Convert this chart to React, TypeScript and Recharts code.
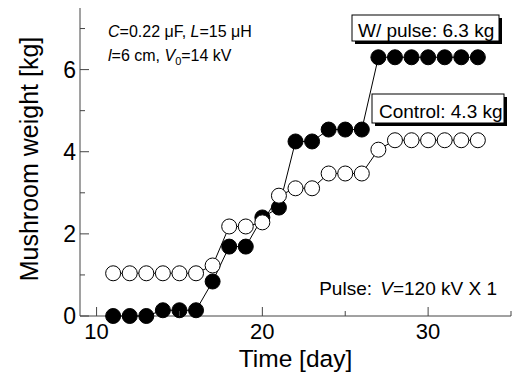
import React from 'react';
import { LineChart, Line, XAxis, YAxis } from 'recharts';

const days = [11, 12, 13, 14, 15, 16, 17, 18, 19, 20, 21, 22, 23, 24, 25, 26, 27, 28, 29, 30, 31, 32, 33];
const pulseWeight = [0, 0, 0, 0.14, 0.14, 0.14, 0.84, 1.69, 1.69, 2.4, 2.64, 4.25, 4.25, 4.54, 4.54, 4.54, 6.3, 6.3, 6.3, 6.3, 6.3, 6.3, 6.3];
const controlWeight = [1.04, 1.04, 1.04, 1.04, 1.04, 1.04, 1.23, 2.18, 2.18, 2.28, 2.93, 3.11, 3.11, 3.47, 3.47, 3.47, 4.05, 4.28, 4.28, 4.28, 4.28, 4.28, 4.28];
const xTicks = [10, 15, 20, 25, 30, 35];
const xLabels = [10, 20, 30];
const yTicks = [0, 1, 2, 3, 4, 5, 6, 7];
const yLabels = [0, 2, 4, 6];

const data = days.map((d, i) => ({ day: d, pulse: pulseWeight[i], control: controlWeight[i] }));

const FONT = "'Liberation Sans', Arial, Helvetica, sans-serif";
const AXIS = '#444';
const MAJOR = 9;
const MINOR = 5;

const BottomTick = (props: any) => {
  const { x, y, payload } = props;
  const major = xLabels.includes(payload.value);
  return (
    <g>
      <line x1={x} x2={x} y1={y} y2={y - (major ? MAJOR : MINOR)} stroke={AXIS} strokeWidth={1} />
      {major && (
        <text x={x} y={y + 22.5} textAnchor="middle" fontSize={22} fontFamily={FONT} fill="#000">
          {payload.value}
        </text>
      )}
    </g>
  );
};

const TopTick = (props: any) => {
  const { x, y, payload } = props;
  const major = xLabels.includes(payload.value);
  return <line x1={x} x2={x} y1={y} y2={y + (major ? MAJOR : MINOR)} stroke={AXIS} strokeWidth={1} />;
};

const LeftTick = (props: any) => {
  const { x, y, payload } = props;
  const major = yLabels.includes(payload.value);
  return (
    <g>
      <line x1={x} x2={x + (major ? MAJOR : MINOR)} y1={y} y2={y} stroke={AXIS} strokeWidth={1} />
      {major && (
        <text x={x - 4} y={y + 8} textAnchor="end" fontSize={23} fontFamily={FONT} fill="#000">
          {payload.value}
        </text>
      )}
    </g>
  );
};

const RightTick = (props: any) => {
  const { x, y, payload } = props;
  const major = yLabels.includes(payload.value);
  return <line x1={x} x2={x - (major ? MAJOR : MINOR)} y1={y} y2={y} stroke={AXIS} strokeWidth={1} />;
};

const filledDot = { r: 7.5, fill: '#000', stroke: '#000', strokeWidth: 1 };
const openDot = { r: 7.5, fill: '#fff', stroke: '#000', strokeWidth: 1 };

export default function App() {
  return (
    <div style={{ position: 'absolute', left: 0, top: 0, width: 513, height: 376, background: '#fff' }}>
      <LineChart width={513} height={376} data={data} margin={{ top: 8, right: 2, bottom: 0, left: 0 }}>
        <XAxis
          dataKey="day"
          type="number"
          domain={[9, 35]}
          ticks={xTicks}
          interval={0}
          height={60}
          tickSize={0}
          tickMargin={0}
          tickLine={false}
          axisLine={{ stroke: AXIS, strokeWidth: 1 }}
          tick={BottomTick}
        />
        <XAxis
          xAxisId="top"
          orientation="top"
          dataKey="day"
          type="number"
          domain={[9, 35]}
          ticks={xTicks}
          interval={0}
          height={0}
          tickSize={0}
          tickMargin={0}
          tickLine={false}
          axisLine={{ stroke: AXIS, strokeWidth: 1 }}
          tick={TopTick}
        />
        <YAxis
          type="number"
          domain={[0, 7.5]}
          ticks={yTicks}
          interval={0}
          width={80}
          tickSize={0}
          tickMargin={0}
          tickLine={false}
          axisLine={{ stroke: AXIS, strokeWidth: 1 }}
          tick={LeftTick}
        />
        <YAxis
          yAxisId="right"
          orientation="right"
          type="number"
          domain={[0, 7.5]}
          ticks={yTicks}
          interval={0}
          width={0}
          tickSize={0}
          tickMargin={0}
          tickLine={false}
          axisLine={{ stroke: AXIS, strokeWidth: 1 }}
          tick={RightTick}
        />
        <Line
          dataKey="pulse"
          stroke="#000"
          strokeWidth={1}
          dot={filledDot}
          activeDot={false}
          isAnimationActive={false}
        />
        <Line
          dataKey="control"
          stroke="#000"
          strokeWidth={1}
          dot={openDot}
          activeDot={false}
          isAnimationActive={false}
        />
      </LineChart>
      <svg
        width={513}
        height={376}
        style={{ position: 'absolute', left: 0, top: 0, pointerEvents: 'none' }}
        fontFamily={FONT}
      >
        <text x={295.5} y={366.5} textAnchor="middle" fontSize={24.5} fill="#000">Time [day]</text>
        <text transform="translate(37.5,159) rotate(-90)" textAnchor="middle" fontSize={25} fill="#000">
          Mushroom weight [kg]
        </text>
        <text x={108} y={37} fontSize={16} fill="#000">
          <tspan fontStyle="italic">C</tspan>=0.22 μF, <tspan fontStyle="italic">L</tspan>=15 μH
        </text>
        <text x={108} y={61} fontSize={16} fill="#000">
          <tspan fontStyle="italic">l</tspan>=6 cm, <tspan fontStyle="italic">V</tspan>
          <tspan fontSize={11} dy={4}>0</tspan>
          <tspan dy={-4}>=14 kV</tspan>
        </text>
        <text x={497} y={295} textAnchor="end" fontSize={19} fill="#000">
          Pulse: <tspan fontStyle="italic" dx={3}>V</tspan>=120 kV X 1
        </text>
        <rect x={355} y={18} width={147} height={26} fill="#000" />
        <rect x={352} y={15} width={147} height={26} fill="#fff" stroke="#000" strokeWidth={1} />
        <text x={358} y={37} fontSize={19} fill="#000">W/ pulse: 6.3 kg</text>
        <rect x={375} y={97} width={132} height={29} fill="#000" />
        <rect x={372} y={94} width={132} height={29} fill="#fff" stroke="#000" strokeWidth={1} />
        <text x={379} y={118} fontSize={19} fill="#000">Control: 4.3 kg</text>
      </svg>
    </div>
  );
}
